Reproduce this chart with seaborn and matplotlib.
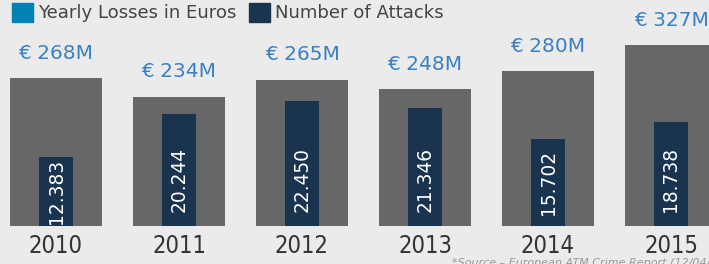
import numpy as np
import pandas as pd
import matplotlib
matplotlib.use("Agg")
import matplotlib.pyplot as plt
from matplotlib.patches import Patch
import seaborn as sns

# dados
years = ["2010", "2011", "2012", "2013", "2014", "2015"]
losses = [268, 234, 265, 248, 280, 327]          # milhões de euros
attacks = [12383, 20244, 22450, 21346, 15702, 18738]
loss_labels = ["€ 268M", "€ 234M", "€ 265M", "€ 248M", "€ 280M", "€ 327M"]
attack_labels = ["12.383", "20.244", "22.450", "21.346", "15.702", "18.738"]

df = pd.DataFrame({"year": years, "losses": losses, "attacks": attacks})

bg = "#ebebeb"
gray = "#676767"
navy = "#1a3450"
blue = "#3b80c6"

sns.set_style("white")
plt.rcParams["font.family"] = ["DejaVu Sans"]

fig = plt.figure(figsize=(7.09, 2.64), dpi=100, facecolor=bg)
ax = fig.add_axes([0, 38 / 264, 1, 226 / 264])
ax.set_facecolor(bg)

# barras cinzas (perdas)
sns.barplot(data=df, x="year", y="losses", color=gray, width=0.75,
            saturation=1, linewidth=0, ax=ax)
ax.set_ylim(0, 226 / 0.552)

# barras azuis (ataques)
ax2 = ax.twinx()
sns.barplot(data=df, x="year", y="attacks", color=navy, width=0.28,
            saturation=1, linewidth=0, ax=ax2)
ax2.set_ylim(0, 226 / 0.00555)

ax.set_xlim(-56 / 123, (709 - 56) / 123)

for a in (ax, ax2):
    for s in a.spines.values():
        s.set_visible(False)
    a.set_ylabel("")
    a.set_xlabel("")
    a.set_yticks([])

ax.tick_params(axis="x", length=0, pad=6)
for lab in ax.get_xticklabels():
    lab.set_fontsize(17)
    lab.set_fontstretch("condensed")
    lab.set_color("#333333")

# rótulos das perdas
for i, (v, t) in enumerate(zip(losses, loss_labels)):
    ax.annotate(t, (i, v), xytext=(0, 18), textcoords="offset points",
                ha="center", va="center", color=blue, fontsize=14.5)

# rótulos dos ataques
for i, (v, t) in enumerate(zip(attacks, attack_labels)):
    ax2.text(i, min(v / 2, 8300), t, rotation=90, ha="center", va="center",
             color="white", fontsize=13.4)

# legenda
handles = [Patch(color="#0082b4", label="Yearly Losses in Euros"),
           Patch(color=navy, label="Number of Attacks")]
fig.legend(handles=handles, loc="upper left", bbox_to_anchor=(12 / 709, 1 - 3 / 264),
           ncol=2, frameon=False, fontsize=13.1, handlelength=1.15, handleheight=1.2,
           handletextpad=0.28, columnspacing=0.7, borderpad=0, borderaxespad=0,
           labelcolor="#444444")

fig.text(452 / 709, 1 - 258 / 264, "*Source \u2013 European ATM Crime Report (12/04/2016)",
         fontsize=8, style="italic", color="#999999", va="top", ha="left")

fig.savefig("out.png", dpi=100, facecolor=bg)
